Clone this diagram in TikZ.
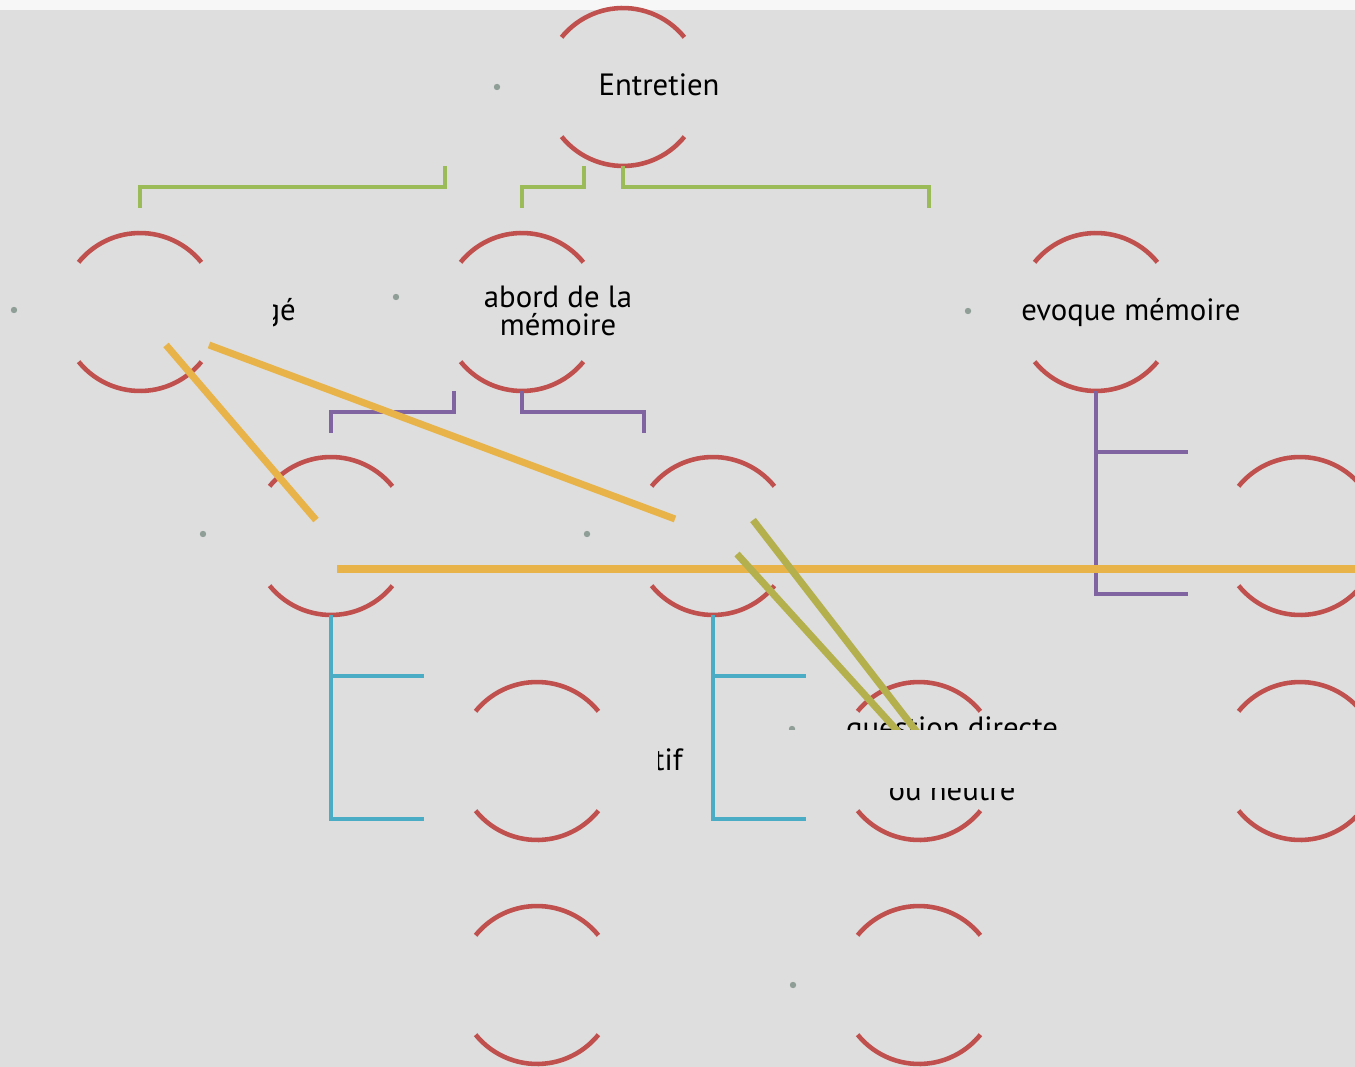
\documentclass[tikz,border=0pt]{standalone}
\usepackage{fontspec}
\setmainfont{PT Sans}
\usepackage{tikz}
\usetikzlibrary{calc}
\definecolor{bgray}{HTML}{DEDEDE}
\definecolor{topstrip}{HTML}{F7F7F7}
\definecolor{arcred}{HTML}{C0504D}
\definecolor{lgreen}{HTML}{9BBB59}
\definecolor{lpurple}{HTML}{8064A2}
\definecolor{lblue}{HTML}{4BACC6}
\definecolor{lorange}{HTML}{E8B44A}
\definecolor{lolive}{HTML}{B5B04E}
\definecolor{dotgray}{HTML}{8F9E96}

\begin{document}
\begin{tikzpicture}[x=0.02cm,y=0.02cm,font=\fontsize{17.5}{19}\selectfont]
      \tikzstyle{bubble}=[circle,minimum size=3.16cm,inner sep=0,outer sep=0]
      \tikzstyle{arcline}=[draw=arcred,line width=2.6pt]
      \tikzstyle{glink}=[draw=lgreen,line width=2.5pt]
      \tikzstyle{plink}=[draw=lpurple,line width=2.5pt]
      \tikzstyle{blink}=[draw=lblue,line width=2.5pt]
      \tikzstyle{oline}=[draw=lorange,line width=4pt]
      \tikzstyle{vline}=[draw=lolive,line width=4pt]
      \tikzstyle{lbl}=[inner sep=0,text=black]

      % background
      \fill[bgray] (0,0) rectangle (1355,-1067);
      \fill[topstrip] (0,0) rectangle (1355,-10);
      \useasboundingbox (0,0) rectangle (1355,-1067);

      % bubbles
      \node(root)[bubble] at (623,-87){};
      \node(dir)[bubble] at (140,-312){};
      \node(abord)[bubble] at (522,-312){};
      \node(evoque)[bubble] at (1096,-312){};
      \node(sub1)[bubble] at (331,-536){};
      \node(sub2)[bubble] at (713,-536){};
      \node(sub3)[bubble] at (1300,-536){};
      \node(leaf1)[bubble] at (537,-761){};
      \node(leaf2)[bubble] at (919,-761){};
      \node(leaf3)[bubble] at (1300,-761){};
      \node(leaf4)[bubble] at (537,-985){};
      \node(leaf5)[bubble] at (919,-985){};
      \coordinate(ghost) at (929,-208);

      \foreach \n in {root,dir,abord,evoque,sub1,sub2,sub3,leaf1,leaf2,leaf3,leaf4,leaf5}{
        \draw[arcline] (\n.39) arc (39:141:79);
        \draw[arcline] (\n.219) arc (219:321:79);
      }

      % bullets
      \foreach \p in {(497,-87),(14,-310),(396,-297),(968,-311),(203,-534),(587,-534),(793,-985),(792,-729)}
        \fill[dotgray] \p circle (3.2);

      % green links
      \draw[glink] ([xshift=-3.56cm]root.south) -- ++(0,-21) -| ([yshift=0.5cm]dir.north);
      \draw[glink] ([xshift=-0.78cm]root.south) -- ++(0,-21) -| ([yshift=0.5cm]abord.north);
      \draw[glink] (root.south) -- ++(0,-21) -| (ghost);

      % purple links
      \draw[plink] ([xshift=-1.36cm]abord.south) -- ++(0,-21) -| ([yshift=0.48cm]sub1.north);
      \draw[plink] (abord.south) -- ++(0,-21) -| ([xshift=-1.38cm,yshift=0.48cm]sub2.north);
      \draw[plink] (evoque.south) |- ([xshift=-2.24cm,yshift=1.68cm]sub3.center);
      \draw[plink] (evoque.south) |- ([xshift=-2.24cm,yshift=-1.16cm]sub3.center);

      % blue links
      \draw[blink] (sub1.south) |- ([xshift=-2.26cm,yshift=1.7cm]leaf1.center);
      \draw[blink] (sub1.south) |- ([xshift=-2.26cm,yshift=-1.16cm]leaf1.center);
      \draw[blink] (sub2.south) |- ([xshift=-2.26cm,yshift=1.7cm]leaf2.center);
      \draw[blink] (sub2.south) |- ([xshift=-2.26cm,yshift=-1.16cm]leaf2.center);

      % texts
      \node(entretien)[lbl,anchor=base] at (659,-96){Entretien};
      \node(abordtxt)[lbl,align=center,font=\fontsize{17.5}{16.4}\selectfont,anchor=base] at (558,-336){abord de la\\mémoire};
      \node(evoquetxt)[lbl,anchor=base] at (1131,-320){evoque mémoire};
      \begin{scope}
        \clip (273,-290) rectangle (320,-340);
        \node(dirtxt)[lbl,anchor=base east] at (296,-320){gé};
      \end{scope}
      \begin{scope}
        \clip (658,-740) rectangle (700,-790);
        \node(tiftxt)[lbl,anchor=base east] at (683,-770){tif};
      \end{scope}
      \node(questtxt)[lbl,align=center,font=\fontsize{17.5}{35}\selectfont,anchor=base] at (952,-800){question directe\\ou neutre};

      % crossing lines
      \draw[oline] ([xshift=0.52cm,yshift=-0.66cm]dir.center) -- ([xshift=-0.3cm,yshift=0.32cm]sub1.center);
      \draw[oline] ([xshift=1.38cm,yshift=-0.66cm]dir.center) -- ([xshift=-0.76cm,yshift=0.34cm]sub2.center);
      \draw[oline] ([xshift=0.12cm,yshift=-0.66cm]sub1.center) -- ([xshift=1.2cm,yshift=-0.66cm]sub3.center);
      \draw[vline] ([xshift=0.8cm,yshift=0.32cm]sub2.center) -- ([xshift=0.02cm,yshift=0.5cm]leaf2.center);
      \draw[vline] ([xshift=0.48cm,yshift=-0.36cm]sub2.center) -- ([xshift=-0.34cm,yshift=0.5cm]leaf2.center);

      % hidden band over the question text
      \fill[bgray] (780,-730) rectangle (1080,-788);
\end{tikzpicture}
\end{document}
